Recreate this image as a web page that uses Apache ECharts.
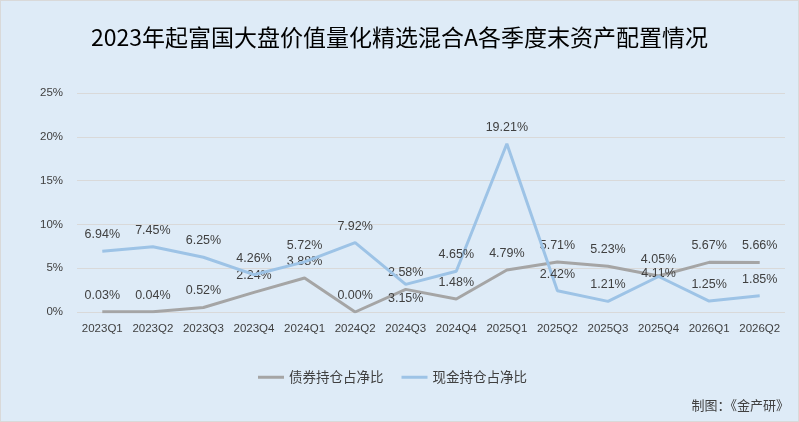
<!DOCTYPE html>
<html><head><meta charset="utf-8">
<script src="https://cdn.jsdelivr.net/npm/echarts@6/dist/echarts.min.js"></script>
<style>html,body{margin:0;padding:0;background:#DEEBF7;}#c{width:797px;height:420px;border:1px solid #D9D9D9;}</style>
</head><body><div id="c"></div>
<script>
var categories = ['2023Q1','2023Q2','2023Q3','2023Q4','2024Q1','2024Q2','2024Q3','2024Q4','2025Q1','2025Q2','2025Q3','2025Q4','2026Q1','2026Q2'];
var bondValues = [0.03, 0.04, 0.52, 2.24, 3.88, 0.00, 2.58, 1.48, 4.79, 5.71, 5.23, 4.11, 5.67, 5.66];
var cashValues = [6.94, 7.45, 6.25, 4.26, 5.72, 7.92, 3.15, 4.65, 19.21, 2.42, 1.21, 4.05, 1.25, 1.85];
var yTicks = [0, 5, 10, 15, 20, 25];

var chart = echarts.init(document.getElementById('c'));
function mk(vals, special) {
  return vals.map(function (v, i) {
    var o = { value: v };
    if (special[i]) o.label = special[i];
    return o;
  });
}
var lbl = { show: true, position: 'top', distance: 10, color: '#404040', fontSize: 12.5, fontFamily: 'Liberation Sans, Arial, sans-serif',
  formatter: function (p) { return p.value.toFixed(2) + '%'; } };
var bondSpecial = {}; bondSpecial[11] = { position: 'top', distance: -4 };
var cashSpecial = {}; cashSpecial[6] = { position: 'bottom', distance: 8 };
chart.setOption({
  backgroundColor: '#DEEBF7',
  animation: false,
  title: { text: '2023年起富国大盘价值量化精选混合A各季度末资产配置情况', left: 'center', top: 20,
    textStyle: { fontSize: 23, fontWeight: 'normal', color: '#000', fontFamily: 'Noto Sans CJK SC' } },
  grid: { left: 76, right: 13, top: 92, bottom: 109 },
  legend: { bottom: 32, left: 252, itemWidth: 26, itemHeight: 3, itemGap: 18,
    icon: 'rect',
    textStyle: { fontSize: 13.5, color: '#404040', fontFamily: 'Noto Sans CJK SC' },
    data: ['债券持仓占净比', '现金持仓占净比'] },
  graphic: [{ type: 'text', right: 9, bottom: 9, style: { text: '制图：《金产研》', fontSize: 13, fill: '#404040', fontFamily: 'Noto Sans CJK SC' } }],
  xAxis: { type: 'category', data: categories, boundaryGap: true,
    axisLine: { show: false }, axisTick: { show: false },
    axisLabel: { interval: 0, color: '#404040', fontSize: 11.5, margin: 11, fontFamily: 'Liberation Sans, Arial, sans-serif' } },
  yAxis: { type: 'value', min: yTicks[0], max: yTicks[yTicks.length - 1], interval: 5,
    axisLine: { show: false }, axisTick: { show: false },
    splitLine: { lineStyle: { color: '#D9D9D9', width: 1 } },
    axisLabel: { color: '#404040', fontSize: 11.5, margin: 14, formatter: '{value}%', fontFamily: 'Liberation Sans, Arial, sans-serif' } },
  series: [
    { name: '债券持仓占净比', type: 'line', data: mk(bondValues, bondSpecial), showSymbol: true, symbol: 'circle', symbolSize: 0.1,
      lineStyle: { color: '#A5A5A5', width: 3 }, itemStyle: { color: '#A5A5A5' }, label: lbl, z: 2 },
    { name: '现金持仓占净比', type: 'line', data: mk(cashValues, cashSpecial), showSymbol: true, symbol: 'circle', symbolSize: 0.1,
      lineStyle: { color: '#9DC3E6', width: 3 }, itemStyle: { color: '#9DC3E6' }, label: lbl, z: 3 }
  ]
});
</script></body></html>
